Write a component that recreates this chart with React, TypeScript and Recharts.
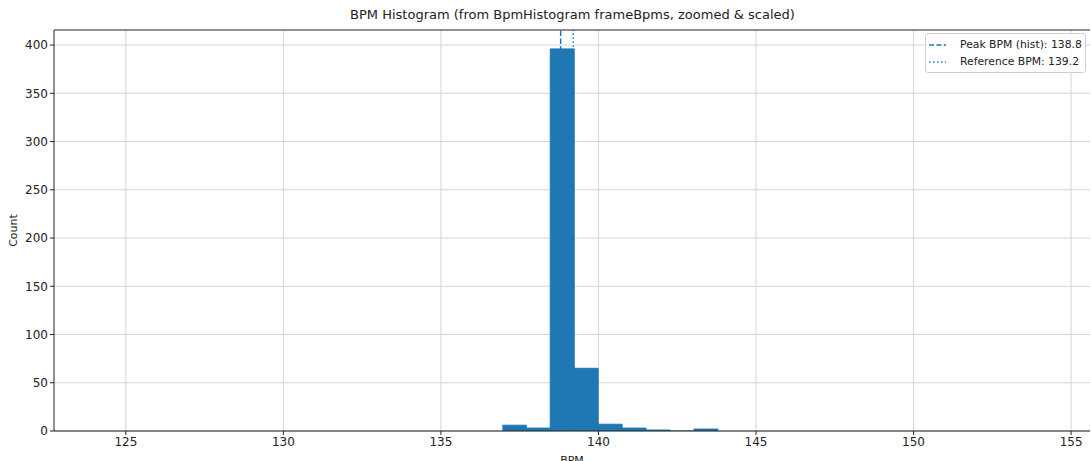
import { ComposedChart, Area, XAxis, YAxis, CartesianGrid, ReferenceLine, Label } from 'recharts';

const BLUE = '#1f77b4';

// histogram bins: left edge of each bin and its count (last edge closes the final bin)
const binEdges = [136.95, 137.71, 138.47, 139.23, 139.99, 140.75, 141.51, 142.27, 143.03, 143.79];
const binCounts = [6, 3, 396, 65, 7, 3, 1, 0, 2, 0];

const xTicks = [125, 130, 135, 140, 145, 150, 155];
const yTicks = [0, 50, 100, 150, 200, 250, 300, 350, 400];

const peakBpm = 138.8;
const referenceBpm = 139.2;

const X_DOMAIN: [number, number] = [122.72, 155.6];
const Y_DOMAIN: [number, number] = [0, 415.6];

const data = binEdges.map((edge, i) => ({ bpm: edge, count: binCounts[i] }));

const FONT = '"DejaVu Sans", sans-serif';

function LegendBox() {
  return (
    <div
      style={{
        position: 'absolute',
        top: 33,
        left: 925,
        border: '1px solid #d0d0d0',
        borderRadius: 3,
        background: 'rgba(255,255,255,0.85)',
        padding: '2px 3px 2px 3px',
        fontFamily: FONT,
        fontSize: 10.8,
        color: '#222',
        lineHeight: '17px',
        whiteSpace: 'nowrap',
      }}
    >
      <div style={{ display: 'flex', alignItems: 'center' }}>
        <svg width={17} height={8} style={{ marginRight: 14 }}>
          <line x1={0} y1={4} x2={17} y2={4} stroke={BLUE} strokeWidth={1.5} strokeDasharray="5 2.4" />
        </svg>
        Peak BPM (hist): {peakBpm.toFixed(1)}
      </div>
      <div style={{ display: 'flex', alignItems: 'center' }}>
        <svg width={17} height={8} style={{ marginRight: 14 }}>
          <line x1={0} y1={4} x2={17} y2={4} stroke={BLUE} strokeWidth={1.5} strokeDasharray="1.5 2.5" />
        </svg>
        Reference BPM: {referenceBpm.toFixed(1)}
      </div>
    </div>
  );
}

export default function App() {
  return (
    <div style={{ position: 'absolute', left: 0, top: 0, width: 1091, height: 461, background: '#fff', overflow: 'hidden' }}>
      <div
        style={{
          position: 'absolute',
          top: 7,
          left: 54,
          width: 1037,
          textAlign: 'center',
          fontFamily: FONT,
          fontSize: 13,
          color: '#222',
        }}
      >
        BPM Histogram (from BpmHistogram frameBpms, zoomed &amp; scaled)
      </div>
      <ComposedChart
        width={1091}
        height={461}
        data={data}
        margin={{ top: 30, right: 1, bottom: 0, left: 0 }}
        style={{ fontFamily: FONT }}
      >
        <CartesianGrid stroke="#d5d5d5" strokeWidth={1} verticalValues={xTicks} horizontalValues={yTicks} />
        <XAxis
          dataKey="bpm"
          type="number"
          domain={X_DOMAIN}
          ticks={xTicks}
          allowDataOverflow
          height={30}
          tickSize={4}
          tick={{ fontSize: 12, fill: '#222' }}
          axisLine={{ stroke: '#222' }}
          tickLine={{ stroke: '#222' }}
        >
          <Label value="BPM" position="insideBottom" offset={-3} style={{ fontSize: 11, fill: '#222' }} />
        </XAxis>
        <YAxis
          type="number"
          domain={Y_DOMAIN}
          ticks={yTicks}
          allowDataOverflow
          width={54}
          tickSize={4}
          tick={{ fontSize: 12, fill: '#222' }}
          axisLine={{ stroke: '#222' }}
          tickLine={{ stroke: '#222' }}
        >
          <Label
            content={({ viewBox }: any) => {
              const cy = viewBox.y + viewBox.height / 2;
              return (
                <text x={17} y={cy} transform={`rotate(-90, 17, ${cy})`} textAnchor="middle" fontSize={11} fill="#222">
                  Count
                </text>
              );
            }}
          />
        </YAxis>
        <Area
          dataKey="count"
          type="stepAfter"
          fill={BLUE}
          fillOpacity={1}
          stroke={BLUE}
          strokeWidth={1}
          isAnimationActive={false}
          dot={false}
          activeDot={false}
        />
        <ReferenceLine x={peakBpm} stroke={BLUE} strokeWidth={1.5} strokeDasharray="5.5 2.4" />
        <ReferenceLine x={referenceBpm} stroke={BLUE} strokeWidth={1.5} strokeDasharray="1.5 2.5" />
        <ReferenceLine y={Y_DOMAIN[1]} stroke="#222" />
      </ComposedChart>
      <LegendBox />
    </div>
  );
}
